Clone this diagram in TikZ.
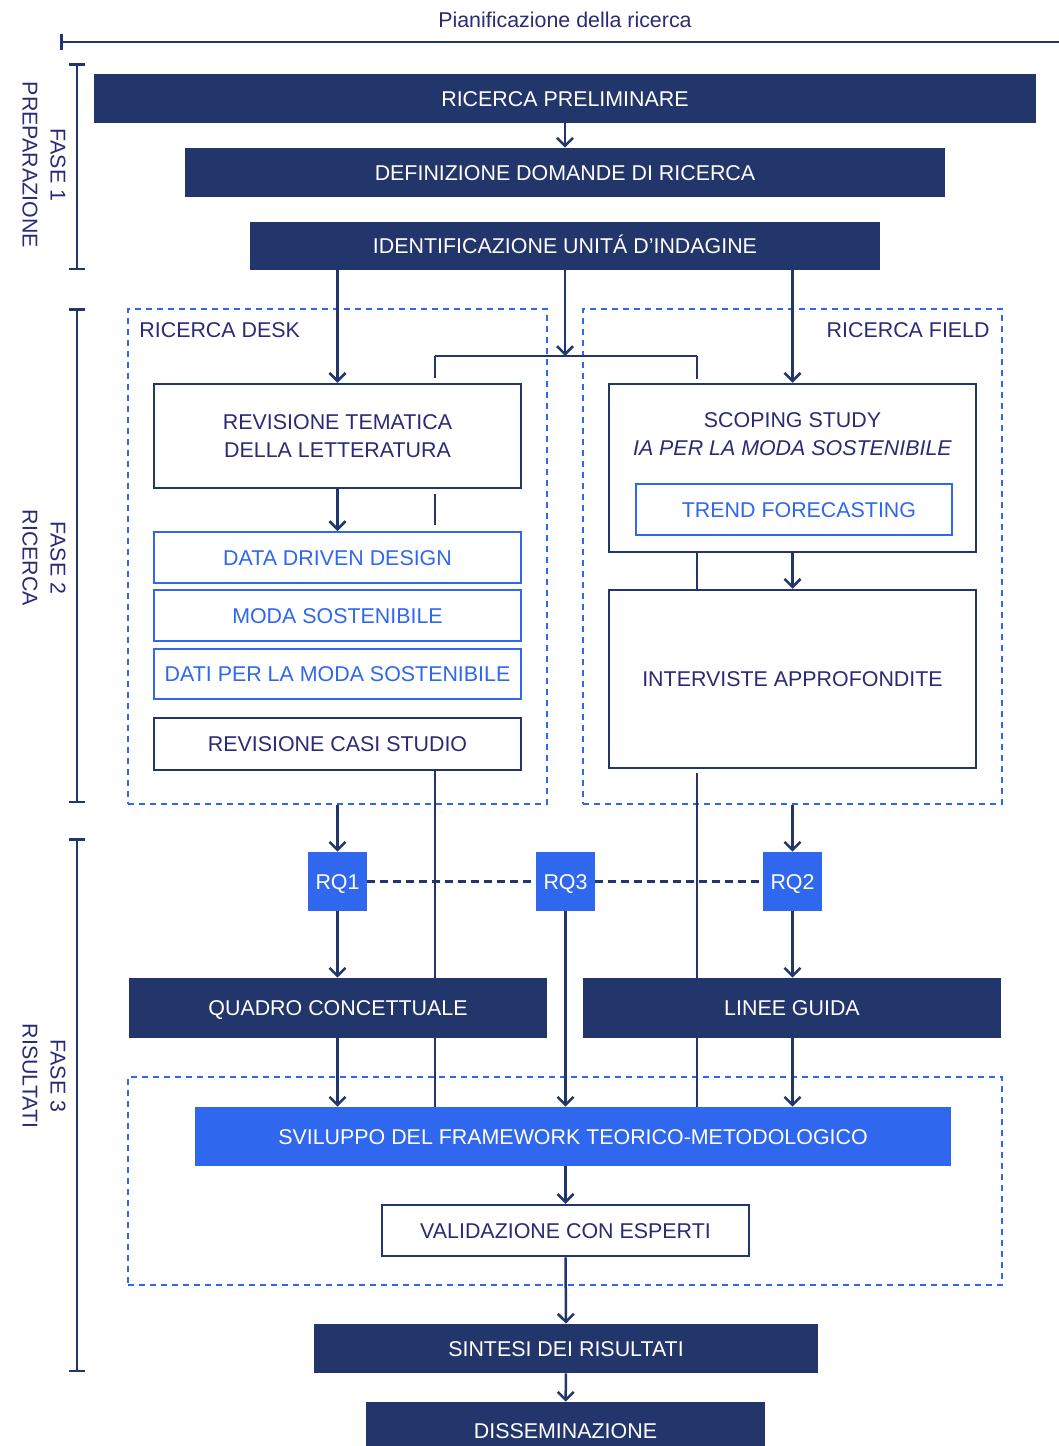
\documentclass[tikz,border=0pt]{standalone}
\usepackage{fontspec}
\setmainfont{Liberation Sans}
\usetikzlibrary{arrows.meta,calc}

\definecolor{navy}{RGB}{35,54,107}
\definecolor{ink}{RGB}{43,42,118}
\definecolor{brightblue}{RGB}{47,103,238}

\tikzset{
  oneline/.style={text height=7.7pt, text depth=0pt},
  darkbox/.style={fill=navy, text=white, inner xsep=1pt, oneline},
  bluebox/.style={fill=brightblue, text=white, inner xsep=1pt, oneline},
  whitebox/.style={draw=navy, line width=1.25pt, fill=white, text=ink, align=center, inner xsep=1pt},
  topicbox/.style={draw=brightblue, line width=1pt, fill=white, text=brightblue, inner xsep=1pt, oneline},
  areabox/.style={draw=brightblue, line width=1pt, dash pattern=on 3pt off 2.5pt},
  flow/.style={draw=navy, line width=1.25pt, -{Straight Barb[length=4pt,width=8pt]}},
  lane/.style={draw=navy, line width=1.25pt},
  rqlink/.style={draw=navy, line width=1.2pt, dash pattern=on 4pt off 2.5pt},
  phase/.style={draw=navy, line width=1.25pt, {Bar[width=8pt]}-{Bar[width=8pt]}},
  phaselbl/.style={text=ink, rotate=-90, align=center}
}

\begin{document}
\begin{tikzpicture}[x=0.5pt, y=-0.5pt, font=\fontsize{10.7}{14}\selectfont]
  \useasboundingbox (0,0) rectangle (1059,1446);

  % timeline and phases
  \node[text=ink] (plan) at (565,20) {Pianificazione della ricerca};
  \draw[navy, line width=1.25pt, {Bar[width=8pt]}-] (60,42) -- (1059,42);

  \draw[phase] (77,63) -- (77,270);
  \draw[phase] (77,308) -- (77,803);
  \draw[phase] (77,838) -- (77,1372);
  \node[phaselbl] (fase1) at (44,165) {FASE 1\\PREPARAZIONE};
  \node[phaselbl] (fase2) at (44,558) {FASE 2\\RICERCA};
  \node[phaselbl] (fase3) at (44,1076) {FASE 3\\RISULTATI};

  % phase 1
  \node[darkbox, minimum width=471pt, minimum height=24.5pt] (prelim) at (565,98.5) {RICERCA PRELIMINARE};
  \node[darkbox, minimum width=380pt, minimum height=24.5pt] (domande) at (565,172.5) {DEFINIZIONE DOMANDE DI RICERCA};
  \node[darkbox, minimum width=315pt, minimum height=24pt] (unita) at (565,246) {IDENTIFICAZIONE UNIT\'A D'INDAGINE};

  % phase 2 areas
  \node[areabox, minimum width=209.5pt, minimum height=247.5pt] (desk) at (337.5,556) {};
  \node[areabox, minimum width=209.5pt, minimum height=247.5pt] (field) at (792.5,556) {};
  \node[text=ink, anchor=west, inner xsep=0pt] (desklbl) at (139,330) {RICERCA DESK};
  \node[text=ink, anchor=east, inner xsep=0pt] (fieldlbl) at (990,330) {RICERCA FIELD};

  % desk research
  \node[whitebox, minimum width=183.5pt, minimum height=52pt] (revtem) at (337.5,436) {REVISIONE TEMATICA\\DELLA LETTERATURA};
  \node[topicbox, minimum width=183.5pt, minimum height=25.5pt] (ddd) at (337.5,557.5) {DATA DRIVEN DESIGN};
  \node[topicbox, minimum width=183.5pt, minimum height=25.5pt] (moda) at (337.5,615.5) {MODA SOSTENIBILE};
  \node[topicbox, minimum width=183.5pt, minimum height=25pt] (dati) at (337.5,674) {DATI PER LA MODA SOSTENIBILE};
  \node[whitebox, oneline, minimum width=183.5pt, minimum height=26pt] (casi) at (337.5,744) {REVISIONE CASI STUDIO};

  % field research
  \node[whitebox, minimum width=183.5pt, minimum height=84pt] (scoping) at (792.5,468) {};
  \node[text=ink, align=center] (scopinglbl) at (792.5,434) {SCOPING STUDY\\\textit{IA PER LA MODA SOSTENIBILE}};
  \node[topicbox, minimum width=158pt, minimum height=25.5pt] (trend) at (794,509.5) {\hspace{5pt}TREND FORECASTING};
  \node[whitebox, oneline, minimum width=183.5pt, minimum height=89pt] (interv) at (792.5,679) {INTERVISTE APPROFONDITE};

  % research questions
  \node[bluebox, minimum size=29.5pt] (rq1) at (337.5,881.5) {RQ1};
  \node[bluebox, minimum size=29.5pt] (rq3) at (565.5,881.5) {RQ3};
  \node[bluebox, minimum size=29.5pt] (rq2) at (792.5,881.5) {RQ2};

  % phase 3
  \node[darkbox, minimum width=209pt, minimum height=30pt] (quadro) at (338,1008) {QUADRO CONCETTUALE};
  \node[darkbox, minimum width=209pt, minimum height=30pt] (linee) at (792,1008) {LINEE GUIDA};
  \node[areabox, minimum width=437pt, minimum height=104pt] (frame) at (565,1181) {};
  \node[bluebox, minimum width=378pt, minimum height=29.5pt] (svil) at (573,1136.5) {SVILUPPO DEL FRAMEWORK TEORICO-METODOLOGICO};
  \node[whitebox, oneline, minimum width=183.5pt, minimum height=25.5pt] (valid) at (565.5,1230.5) {VALIDAZIONE CON ESPERTI};
  \node[darkbox, minimum width=252pt, minimum height=24.5pt] (sintesi) at (566,1348.5) {SINTESI DEI RISULTATI};
  \node[darkbox, minimum width=199.5pt, minimum height=29pt] (dissem) at (565.5,1431) {DISSEMINAZIONE};

  % split below the units
  \coordinate (split) at (565,356);
  \coordinate (splitL) at (435,356);
  \coordinate (splitR) at (697,356);

  % lanes without heads
  \draw[lane] (splitL) -- (splitR);
  \draw[lane] (splitL) -- ($(revtem.north -| splitL)+(0,-5)$);
  \draw[lane] ($(revtem.south -| splitL)+(0,5)$) -- ($(ddd.north -| splitL)+(0,-6)$);
  \draw[lane] (casi.south -| splitL) -- (quadro.north -| splitL);
  \draw[lane] (quadro.south -| splitL) -- (svil.north -| splitL);
  \draw[lane] (splitR) -- ($(scoping.north -| splitR)+(0,-4)$);
  \draw[lane] (scoping.south -| splitR) -- (interv.north -| splitR);
  \draw[lane] ($(interv.south -| splitR)+(0,4)$) -- (linee.north -| splitR);
  \draw[lane] (linee.south -| splitR) -- (svil.north -| splitR);

  % arrows
  \draw[flow] (prelim) -- (domande);
  \draw[flow] (unita.south -| revtem) -- (revtem);
  \draw[flow] (unita.south -| scoping) -- (scoping);
  \draw[flow] (unita) -- (split);
  \draw[flow] (revtem) -- (ddd);
  \draw[flow] (scoping) -- (interv);
  \draw[flow] (desk.south -| rq1) -- (rq1);
  \draw[flow] (field.south -| rq2) -- (rq2);
  \draw[flow] (rq1) -- (rq1 |- quadro.north);
  \draw[flow] (rq2) -- (rq2 |- linee.north);
  \draw[flow] (rq3) -- (rq3 |- svil.north);
  \draw[flow] (quadro.south -| rq1) -- (rq1 |- svil.north);
  \draw[flow] (linee.south -| rq2) -- (rq2 |- svil.north);
  \draw[flow] (svil.south -| valid) -- (valid);
  \draw[flow] (valid) -- (sintesi);
  \draw[flow] (sintesi) -- (dissem);

  % links between research questions
  \draw[rqlink] (rq1) -- (rq3);
  \draw[rqlink] (rq3) -- (rq2);
\end{tikzpicture}
\end{document}
